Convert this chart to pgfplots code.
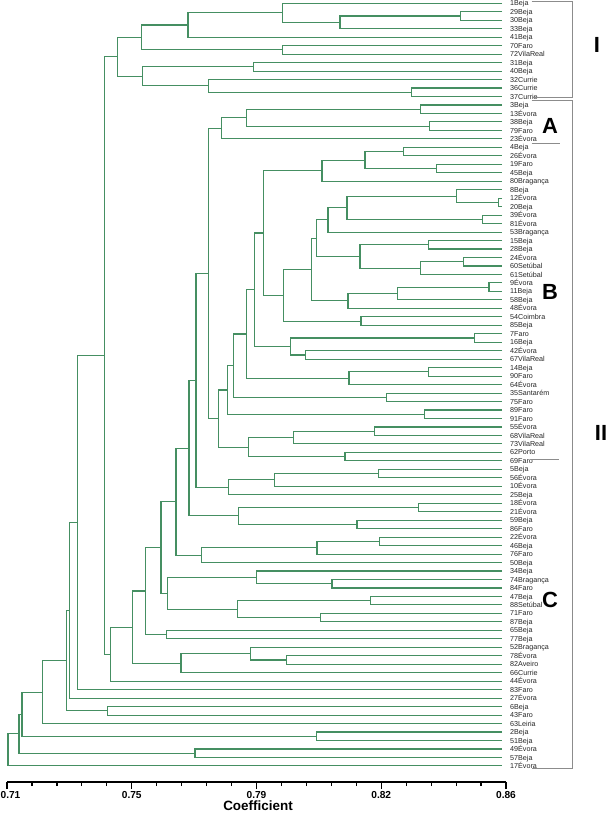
\documentclass[border=0pt]{standalone}
\usepackage{fontspec}
\setmainfont{Liberation Sans}
\usepackage{pgfplots}
\pgfplotsset{compat=1.18}
\usetikzlibrary{calc}
\definecolor{dgreen}{HTML}{458F62}
\definecolor{brk}{HTML}{8C8C8C}

\begin{document}
\begin{tikzpicture}
\begin{axis}[
  name=ax,
  scale only axis,
  width=499bp, height=782bp,
  xmin=0.71, xmax=0.86,
  ymin=0.61, ymax=92.9,
  y dir=reverse,
  clip=false,
  axis x line*=bottom,
  axis y line*=right,
  x axis line style={-, line width=2.6bp, black},
  y axis line style={draw=none},
  xtick={0.71,0.7475,0.785,0.8225,0.86},
  xticklabels={\hspace*{7bp}0.71,0.75,0.79,0.82,0.86},
  minor x tick num=4,
  tick align=outside,
  major tick length=7bp, minor tick length=4bp,
  xtick style={black, line width=1.2bp},
  ytick={1,...,91},
  yticklabels={1Beja,29Beja,30Beja,33Beja,41Beja,70Faro,72VilaReal,31Beja,40Beja,32Currie,36Currie,37Currie,3Beja,13Évora,38Beja,79Faro,23Évora,4Beja,26Évora,19Faro,45Beja,80Bragança,8Beja,12Évora,20Beja,39Évora,81Évora,53Bragança,15Beja,28Beja,24Évora,60Setúbal,61Setúbal,9Évora,11Beja,58Beja,48Évora,54Coimbra,85Beja,7Faro,16Beja,42Évora,67VilaReal,14Beja,90Faro,64Évora,35Santarém,75Faro,89Faro,91Faro,55Évora,68VilaReal,73VilaReal,62Porto,69Faro,5Beja,56Évora,10Évora,25Beja,18Évora,21Évora,59Beja,86Faro,22Évora,46Beja,76Faro,50Beja,34Beja,74Bragança,84Faro,47Beja,88Setúbal,71Faro,87Beja,65Beja,77Beja,52Bragança,78Évora,82Aveiro,66Currie,44Évora,83Faro,27Évora,6Beja,43Faro,63Leiria,2Beja,51Beja,49Évora,57Beja,17Évora},
  ytick style={draw=none},
  yticklabel style={anchor=base west, inner sep=0pt, xshift=-3bp, yshift=-2.6bp, font=\fontsize{7.2}{7.2}\selectfont, text=black!85},
  xticklabel style={anchor=north, inner sep=0pt, yshift=-2bp, font=\bfseries\fontsize{10.2}{10.2}\selectfont},
  xlabel={Coefficient},
  xlabel style={at={(axis description cs:0.503,0)}, anchor=north, inner sep=0pt, yshift=-19bp, font=\bfseries\fontsize{13.5}{13.5}\selectfont},
  unbounded coords=jump,
]
% each group: child1 -> node -> child2 (leaf ends at 0.8588)
\addplot[dgreen, line width=1.1bp] coordinates {
(0.8588,2) (0.8462,2) (0.8462,3) (0.8588,3) (nan,nan)
(0.8462,2.5) (0.8101,2.5) (0.8101,4) (0.8588,4) (nan,nan)
(0.8588,1) (0.7927,1) (0.7927,3.25) (0.8101,3.25) (nan,nan)
(0.7927,2.125) (0.7644,2.125) (0.7644,5) (0.8588,5) (nan,nan)
(0.8588,6) (0.7927,6) (0.7927,7) (0.8588,7) (nan,nan)
(0.7644,3.5625) (0.7503,3.5625) (0.7503,6.5) (0.7927,6.5) (nan,nan)
(0.8588,8) (0.7840,8) (0.7840,9) (0.8588,9) (nan,nan)
(0.8588,11) (0.8317,11) (0.8317,12) (0.8588,12) (nan,nan)
(0.8588,10) (0.7707,10) (0.7707,11.5) (0.8317,11.5) (nan,nan)
(0.7840,8.5) (0.7506,8.5) (0.7506,10.75) (0.7707,10.75) (nan,nan)
(0.7503,5.0313) (0.7431,5.0313) (0.7431,9.625) (0.7506,9.625) (nan,nan)
(0.8588,13) (0.8344,13) (0.8344,14) (0.8588,14) (nan,nan)
(0.8588,15) (0.8369,15) (0.8369,16) (0.8588,16) (nan,nan)
(0.8344,13.5) (0.7821,13.5) (0.7821,15.5) (0.8369,15.5) (nan,nan)
(0.7821,14.5) (0.7746,14.5) (0.7746,17) (0.8588,17) (nan,nan)
(0.8588,18) (0.8293,18) (0.8293,19) (0.8588,19) (nan,nan)
(0.8588,20) (0.8390,20) (0.8390,21) (0.8588,21) (nan,nan)
(0.8293,18.5) (0.8176,18.5) (0.8176,20.5) (0.8390,20.5) (nan,nan)
(0.8176,19.5) (0.8047,19.5) (0.8047,22) (0.8588,22) (nan,nan)
(0.8588,24) (0.8578,24) (0.8578,25) (0.8588,25) (nan,nan)
(0.8588,23) (0.8450,23) (0.8450,24.5) (0.8578,24.5) (nan,nan)
(0.8588,26) (0.8528,26) (0.8528,27) (0.8588,27) (nan,nan)
(0.8450,23.75) (0.8122,23.75) (0.8122,26.5) (0.8528,26.5) (nan,nan)
(0.8122,25.125) (0.8065,25.125) (0.8065,28) (0.8588,28) (nan,nan)
(0.8588,29) (0.8366,29) (0.8366,30) (0.8588,30) (nan,nan)
(0.8588,31) (0.8471,31) (0.8471,32) (0.8588,32) (nan,nan)
(0.8471,31.5) (0.8344,31.5) (0.8344,33) (0.8588,33) (nan,nan)
(0.8366,29.5) (0.8161,29.5) (0.8161,32.25) (0.8344,32.25) (nan,nan)
(0.8065,26.5625) (0.8029,26.5625) (0.8029,30.875) (0.8161,30.875) (nan,nan)
(0.8588,34) (0.8549,34) (0.8549,35) (0.8588,35) (nan,nan)
(0.8549,34.5) (0.8273,34.5) (0.8273,36) (0.8588,36) (nan,nan)
(0.8273,35.25) (0.8125,35.25) (0.8125,37) (0.8588,37) (nan,nan)
(0.8029,28.7188) (0.8014,28.7188) (0.8014,36.125) (0.8125,36.125) (nan,nan)
(0.8588,38) (0.8164,38) (0.8164,39) (0.8588,39) (nan,nan)
(0.8014,32.4219) (0.7930,32.4219) (0.7930,38.5) (0.8164,38.5) (nan,nan)
(0.8047,20.75) (0.7870,20.75) (0.7870,35.4609) (0.7930,35.4609) (nan,nan)
(0.8588,40) (0.8504,40) (0.8504,41) (0.8588,41) (nan,nan)
(0.8588,42) (0.7996,42) (0.7996,43) (0.8588,43) (nan,nan)
(0.8504,40.5) (0.7951,40.5) (0.7951,42.5) (0.7996,42.5) (nan,nan)
(0.7870,28.1055) (0.7843,28.1055) (0.7843,41.5) (0.7951,41.5) (nan,nan)
(0.8588,44) (0.8368,44) (0.8368,45) (0.8588,45) (nan,nan)
(0.8368,44.5) (0.8128,44.5) (0.8128,46) (0.8588,46) (nan,nan)
(0.7843,34.8027) (0.7821,34.8027) (0.7821,45.25) (0.8128,45.25) (nan,nan)
(0.8588,47) (0.8242,47) (0.8242,48) (0.8588,48) (nan,nan)
(0.7821,40.0264) (0.7782,40.0264) (0.7782,47.5) (0.8242,47.5) (nan,nan)
(0.8588,49) (0.8354,49) (0.8354,50) (0.8588,50) (nan,nan)
(0.7782,43.7632) (0.7764,43.7632) (0.7764,49.5) (0.8354,49.5) (nan,nan)
(0.8588,51) (0.8206,51) (0.8206,52) (0.8588,52) (nan,nan)
(0.8206,51.5) (0.7960,51.5) (0.7960,53) (0.8588,53) (nan,nan)
(0.8588,54) (0.8116,54) (0.8116,55) (0.8588,55) (nan,nan)
(0.7960,52.25) (0.7827,52.25) (0.7827,54.5) (0.8116,54.5) (nan,nan)
(0.7764,46.6316) (0.7737,46.6316) (0.7737,53.375) (0.7827,53.375) (nan,nan)
(0.7746,15.75) (0.7707,15.75) (0.7707,50.0033) (0.7737,50.0033) (nan,nan)
(0.8588,56) (0.8218,56) (0.8218,57) (0.8588,57) (nan,nan)
(0.8218,56.5) (0.7903,56.5) (0.7903,58) (0.8588,58) (nan,nan)
(0.7903,57.25) (0.7767,57.25) (0.7767,59) (0.8588,59) (nan,nan)
(0.7707,32.8767) (0.7668,32.8767) (0.7668,58.125) (0.7767,58.125) (nan,nan)
(0.8588,60) (0.8338,60) (0.8338,61) (0.8588,61) (nan,nan)
(0.8588,62) (0.8152,62) (0.8152,63) (0.8588,63) (nan,nan)
(0.8338,60.5) (0.7797,60.5) (0.7797,62.5) (0.8152,62.5) (nan,nan)
(0.7668,45.5008) (0.7647,45.5008) (0.7647,61.5) (0.7797,61.5) (nan,nan)
(0.8588,64) (0.8221,64) (0.8221,65) (0.8588,65) (nan,nan)
(0.8221,64.5) (0.8032,64.5) (0.8032,66) (0.8588,66) (nan,nan)
(0.8032,65.25) (0.7686,65.25) (0.7686,67) (0.8588,67) (nan,nan)
(0.7647,53.5004) (0.7608,53.5004) (0.7608,66.125) (0.7686,66.125) (nan,nan)
(0.8588,69) (0.8077,69) (0.8077,70) (0.8588,70) (nan,nan)
(0.8588,68) (0.7849,68) (0.7849,69.5) (0.8077,69.5) (nan,nan)
(0.8588,71) (0.8194,71) (0.8194,72) (0.8588,72) (nan,nan)
(0.8588,73) (0.8043,73) (0.8043,74) (0.8588,74) (nan,nan)
(0.8194,71.5) (0.7794,71.5) (0.7794,73.5) (0.8043,73.5) (nan,nan)
(0.7849,68.75) (0.7583,68.75) (0.7583,72.5) (0.7794,72.5) (nan,nan)
(0.7608,59.8127) (0.7563,59.8127) (0.7563,70.625) (0.7583,70.625) (nan,nan)
(0.8588,75) (0.7580,75) (0.7580,76) (0.8588,76) (nan,nan)
(0.7563,65.2189) (0.7515,65.2189) (0.7515,75.5) (0.7580,75.5) (nan,nan)
(0.8588,78) (0.7939,78) (0.7939,79) (0.8588,79) (nan,nan)
(0.8588,77) (0.7833,77) (0.7833,78.5) (0.7939,78.5) (nan,nan)
(0.7833,77.75) (0.7623,77.75) (0.7623,80) (0.8588,80) (nan,nan)
(0.7515,70.3594) (0.7478,70.3594) (0.7478,78.875) (0.7623,78.875) (nan,nan)
(0.7478,74.6172) (0.7410,74.6172) (0.7410,81) (0.8588,81) (nan,nan)
(0.7431,7.3281) (0.7392,7.3281) (0.7392,77.8086) (0.7410,77.8086) (nan,nan)
(0.7392,42.5684) (0.7313,42.5684) (0.7313,82) (0.8588,82) (nan,nan)
(0.7313,62.2842) (0.7289,62.2842) (0.7289,83) (0.8588,83) (nan,nan)
(0.8588,84) (0.7401,84) (0.7401,85) (0.8588,85) (nan,nan)
(0.7289,72.6421) (0.7279,72.6421) (0.7279,84.5) (0.7401,84.5) (nan,nan)
(0.7279,78.5711) (0.7207,78.5711) (0.7207,86) (0.8588,86) (nan,nan)
(0.8588,87) (0.8031,87) (0.8031,88) (0.8588,88) (nan,nan)
(0.7207,82.2855) (0.7145,82.2855) (0.7145,87.5) (0.8031,87.5) (nan,nan)
(0.8588,89) (0.7665,89) (0.7665,90) (0.8588,90) (nan,nan)
(0.7145,84.8928) (0.7136,84.8928) (0.7136,89.5) (0.7665,89.5) (nan,nan)
(0.7136,87.1964) (0.7103,87.1964) (0.7103,91) (0.8588,91)
};
% group brackets
\draw[brk, line width=0.8bp] (axis cs:0.8677,0.75) -- (axis cs:0.8801,0.75) -- (axis cs:0.8801,12.14) -- (axis cs:0.8677,12.14);
\draw[brk, line width=0.8bp] (axis cs:0.8677,12.41) -- (axis cs:0.8801,12.41) -- (axis cs:0.8801,91.35) -- (axis cs:0.8677,91.35);
\draw[brk, line width=0.8bp] (axis cs:0.8677,17.52) -- (axis cs:0.8762,17.52);
\draw[brk, line width=0.8bp] (axis cs:0.8674,54.85) -- (axis cs:0.8760,54.85);
\node[font=\bfseries\fontsize{22}{22}\selectfont] at (axis cs:0.88735,5.92) {I};
\node[font=\bfseries\fontsize{22}{22}\selectfont] at (axis cs:0.88856,51.7) {II};
\node[font=\bfseries\fontsize{22}{22}\selectfont] at (axis cs:0.87323,15.48) {A};
\node[font=\bfseries\fontsize{22}{22}\selectfont] at (axis cs:0.87323,35.07) {B};
\node[font=\bfseries\fontsize{22}{22}\selectfont] at (axis cs:0.87323,71.4) {C};
\end{axis}
\pgfresetboundingbox
\path ($(ax.north west)+(-7bp,0)$) rectangle ($(ax.south west)+(600bp,-32bp)$);
\end{tikzpicture}
\end{document}
